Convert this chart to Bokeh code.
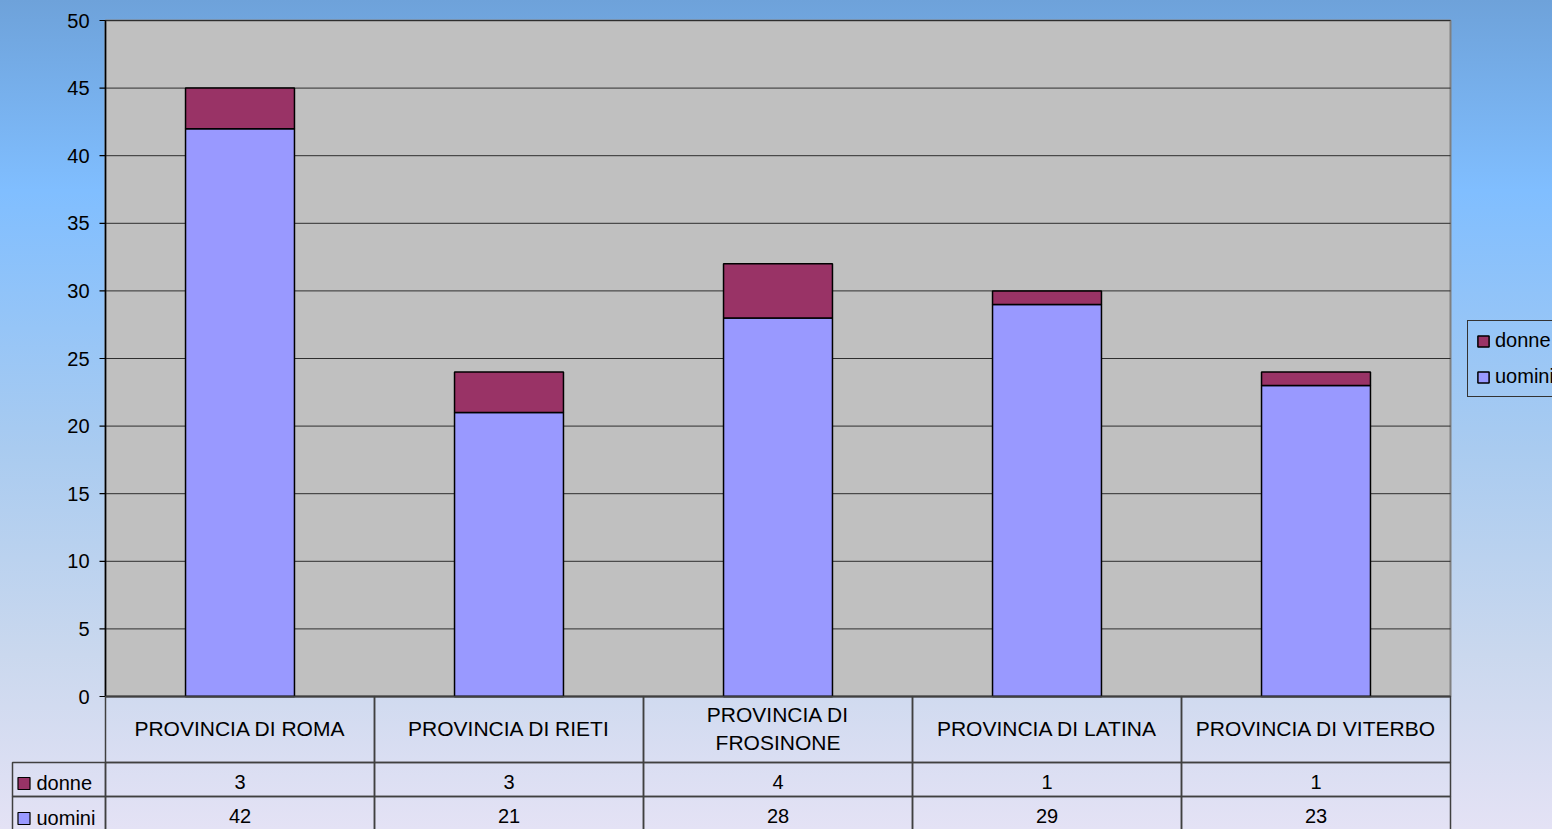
from bokeh.plotting import figure
from bokeh.models import Range1d, Legend, LegendItem, ColumnDataSource
from bokeh.embed import file_html
from bokeh.resources import INLINE
from bokeh.core.properties import value

# ---------------- data ----------------
categories = ["PROVINCIA DI ROMA", "PROVINCIA DI RIETI", "PROVINCIA DI\nFROSINONE",
              "PROVINCIA DI LATINA", "PROVINCIA DI VITERBO"]
uomini = [42, 21, 28, 29, 23]
donne = [3, 3, 4, 1, 1]
series_names = ["donne", "uomini"]
y_ticks = [0, 5, 10, 15, 20, 25, 30, 35, 40, 45, 50]
y_tick_labels = ["0", "5", "10", "15", "20", "25", "30", "35", "40", "45", "50"]

# ---------------- style / layout (pixels) ----------------
FONT = "Liberation Sans"
COL_U = "#9999FF"
COL_D = "#993366"
LINE = "#404040"
W, H = 1552, 829
PLOT_L, PLOT_R, PLOT_T, PLOT_B = 105, 1450, 20, 696   # plot area in pixels
HEADER_PX, ROW_PX = 66, 34
KEY_L = 12
TICK_PX, STANDOFF_PX = 6, 10

n = len(categories)
ymax = y_ticks[-1]
kx = (PLOT_R - PLOT_L) / n            # pixels per category
ky = (PLOT_B - PLOT_T) / ymax         # pixels per unit
x_start = -PLOT_L / kx
x_end = n + (W - PLOT_R) / kx
y_end = ymax + PLOT_T / ky
y_start = -(H - PLOT_B) / ky
xs = [i + 0.5 for i in range(n)]
key_w = (PLOT_L - KEY_L) / kx


def below(d):
    """data y for a point d pixels below the zero line"""
    return -d / ky


src = ColumnDataSource(dict(x=xs, uomini=uomini, donne=donne))

p = figure(width=W, height=H, x_range=Range1d(x_start, x_end),
           y_range=Range1d(y_start, y_end), output_backend="svg", toolbar_location=None,
           x_axis_location=None, y_axis_location=None,
           min_border_left=0, min_border_right=0, min_border_top=0, min_border_bottom=0)
p.background_fill_color = None
p.border_fill_color = None
p.outline_line_color = None
p.grid.visible = False
p.styles = {"background": "linear-gradient(to bottom, #6EA2DA 0%, #80BEFF 23%, "
                          "#A9CBF0 54%, #CAD8EE 79%, #E4E2F5 100%)"}

nt = len(y_ticks)
# plot area and grid
p.quad(left=[0], right=[n], bottom=[0], top=[ymax], fill_color="#C0C0C0",
       line_color="#808080", line_width=2)
p.segment(x0=[0] * nt, x1=[n] * nt, y0=y_ticks, y1=y_ticks,
          line_color="#2E2E2E", line_width=1)

# stacked bars
rs = p.vbar_stack(["uomini", "donne"], x="x", width=0.405, color=[COL_U, COL_D],
                  line_color="black", line_width=1.5, source=src)

# value axis
p.segment(x0=[0], x1=[n], y0=[0], y1=[0], line_color="black", line_width=1.5)
p.segment(x0=[0], x1=[0], y0=[0], y1=[ymax], line_color="black", line_width=1.5)
p.segment(x0=[-TICK_PX / kx] * nt, x1=[0] * nt, y0=y_ticks, y1=y_ticks,
          line_color="black", line_width=1.2)
p.text(x=[0] * nt, y=y_ticks, text=y_tick_labels, x_offset=-(TICK_PX + STANDOFF_PX),
       text_align="right", text_baseline="middle", text_font=value(FONT),
       text_font_size="20px", text_color="black")

# ---------------- data table ----------------
y_head = below(HEADER_PX / 2)
y_d = below(HEADER_PX + ROW_PX / 2)
y_u = below(HEADER_PX + ROW_PX * 1.5)
h_head = HEADER_PX / ky
h_row = ROW_PX / ky

p.rect(x=xs, y=[y_head] * n, width=1, height=h_head, fill_color=None,
       line_color=LINE, line_width=1.5)
for yy in (y_d, y_u):
    p.rect(x=xs + [-key_w / 2], y=[yy] * (n + 1), width=[1] * n + [key_w], height=h_row,
           fill_color=None, line_color=LINE, line_width=1.5)

p.text(x=xs, y=[y_head + 1 / ky] * n, text=categories, text_align="center",
       text_baseline="middle", text_font=value(FONT), text_font_size="21px",
       text_line_height=1.19, text_color="black")
p.text(x=xs, y=[y_d - 2 / ky] * n, text=[str(v) for v in donne], text_align="center",
       text_baseline="middle", text_font=value(FONT), text_font_size="20px",
       text_color="black")
p.text(x=xs, y=[y_u - 2 / ky] * n, text=[str(v) for v in uomini], text_align="center",
       text_baseline="middle", text_font=value(FONT), text_font_size="20px",
       text_color="black")

# row keys in the table
key_x = -key_w + 11.5 / kx
p.rect(x=[key_x, key_x], y=[y_d - 4 / ky, y_u - 5 / ky], width=12, height=12,
       width_units="screen", height_units="screen", fill_color=[COL_D, COL_U],
       line_color="black", line_width=1.2)
p.text(x=[-key_w + 24 / kx] * 2, y=[y_d - 3 / ky, y_u - 4 / ky], text=series_names,
       text_align="left", text_baseline="middle", text_font=value(FONT),
       text_font_size="20px", text_color="black")

# ---------------- side legend ----------------
renderer_by_name = {"donne": rs[1], "uomini": rs[0]}
legend = Legend(items=[LegendItem(label=nm, renderers=[renderer_by_name[nm]])
                       for nm in series_names],
                location=(1467, 432), margin=0, padding=8, spacing=13,
                glyph_width=14, glyph_height=14, label_standoff=5,
                label_text_font=FONT, label_text_font_size="20px", label_height=20,
                label_text_color="black",
                background_fill_alpha=0, border_line_color="#333333",
                border_line_alpha=1.0, border_line_width=1.3)
p.add_layout(legend)

open("out.html", "w").write(file_html(p, INLINE))
